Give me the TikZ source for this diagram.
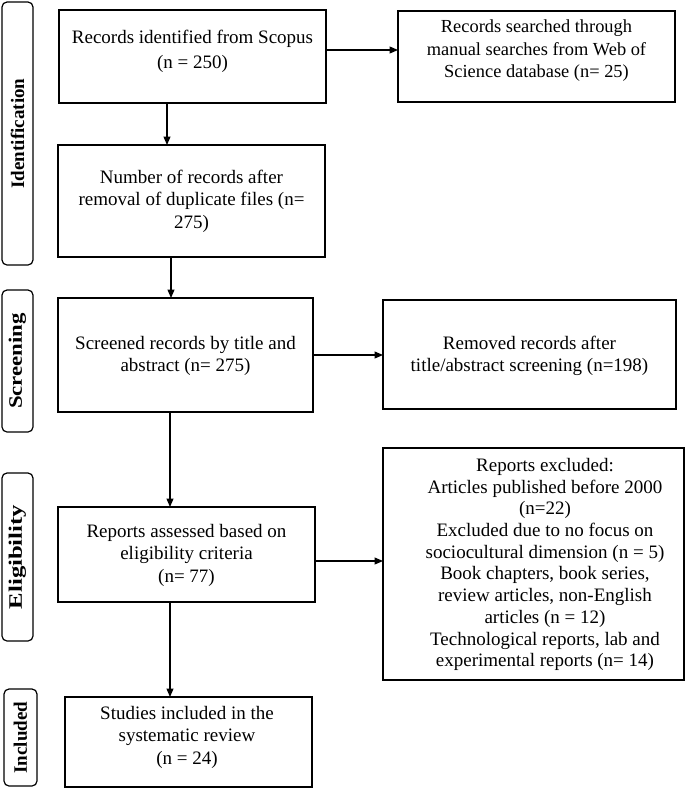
\documentclass[tikz,border=0pt]{standalone}
\usepackage{fontspec}
\setmainfont{Liberation Serif}
\usetikzlibrary{arrows.meta}
\begin{document}
\begin{tikzpicture}[x=1pt,y=-1pt,
  box/.style={draw, line width=1.2pt, inner sep=0pt, outer sep=0pt},
  side/.style={draw, line width=1.2pt, rounded corners=5pt, inner sep=0pt, outer sep=0pt},
  txt/.style={align=center, font=\fontsize{19}{22.5}\selectfont, inner sep=0pt},
  stxt/.style={font=\fontsize{19}{22}\selectfont\bfseries, rotate=90, inner sep=0pt},
  arr/.style={line width=1.2pt, -{Triangle[length=8.5pt,width=7pt]}}]
\useasboundingbox (0,0) rectangle (685,796);

% side labels
\node[side, minimum width=31pt, minimum height=263pt] (sid) at (17.5,133.5) {};
\node[stxt] (tid) at (sid.center) {Identification};
\node[side, minimum width=31pt, minimum height=142pt] (ssc) at (17.5,361) {};
\node[stxt] (tsc) at (ssc.center) {\scalebox{1.2}[1]{Screening}};
\node[side, minimum width=31pt, minimum height=168pt] (sel) at (17.5,557) {};
\node[stxt] (tel) at (sel.center) {\scalebox{1.3}[1]{Eligibility}};
\node[side, minimum width=33pt, minimum height=97pt] (sin) at (20.5,737.5) {};
\node[stxt] (tin) at (sin.center) {Included};

% boxes
\node[box, minimum width=267pt, minimum height=93pt] (b1) at (192.5,56.5) {};
\node[box, minimum width=277pt, minimum height=91pt] (b2) at (536.5,56.5) {};
\node[box, minimum width=267pt, minimum height=112pt] (b3) at (191.5,201) {};
\node[box, minimum width=255pt, minimum height=114pt] (b4) at (185.5,355) {};
\node[box, minimum width=293pt, minimum height=109pt] (b5) at (529.5,354.5) {};
\node[box, minimum width=257pt, minimum height=95pt] (b6) at (186.5,554.5) {};
\node[box, minimum width=301pt, minimum height=232pt] (b7) at (533.5,564) {};
\node[box, minimum width=247pt, minimum height=90pt] (b8) at (188.5,742) {};

% texts
\node[txt, font=\fontsize{19}{25}\selectfont] (t1) at (192.5,51) {Records identified from Scopus\\(n = 250)};
\node[txt, font=\fontsize{18.4}{22.5}\selectfont] (t2) at (536.5,51) {Records searched through\\manual searches from Web of\\Science database (n= 25)};
\node[txt] (t3) at (191.5,201) {Number of records after\\removal of duplicate files (n=\\275)};
\node[txt] (t4) at (185.5,356) {Screened records by title and\\abstract (n= 275)};
\node[txt] (t5) at (529.5,356) {Removed records after\\title/abstract screening (n=198)};
\node[txt] (t6) at (186.5,555) {Reports assessed based on\\eligibility criteria\\(n= 77)};
\node[txt, font=\fontsize{19}{21.7}\selectfont] (t7) at (545,564.5) {Reports excluded:\hspace{18pt}\\Articles published before 2000\\(n=22)\\Excluded due to no focus on\\sociocultural dimension (n = 5)\\Book chapters, book series,\\review articles, non-English\\articles (n = 12)\\Technological reports, lab and\\experimental reports (n= 14)};
\node[txt] (t8) at (187,737) {Studies included in the\\systematic review\\(n = 24)};

% arrows
\draw[arr] ([yshift=6.5pt]b1.east) -- ([yshift=6.5pt]b2.west);
\draw[arr] ([xshift=-25.5pt]b1.south) -- ([xshift=-25.5pt]b1.south |- b3.north);
\draw[arr] ([xshift=-20.5pt]b3.south) -- ([xshift=-20.5pt]b3.south |- b4.north);
\draw[arr] (b4.east) -- (b4.east -| b5.west);
\draw[arr] ([xshift=-15.5pt]b4.south) -- ([xshift=-15.5pt]b4.south |- b6.north);
\draw[arr] ([yshift=-6.5pt]b6.east) -- ([yshift=-6.5pt]b6.east -| b7.west);
\draw[arr] ([xshift=-16.5pt]b6.south) -- ([xshift=-16.5pt]b6.south |- b8.north);
\end{tikzpicture}
\end{document}
